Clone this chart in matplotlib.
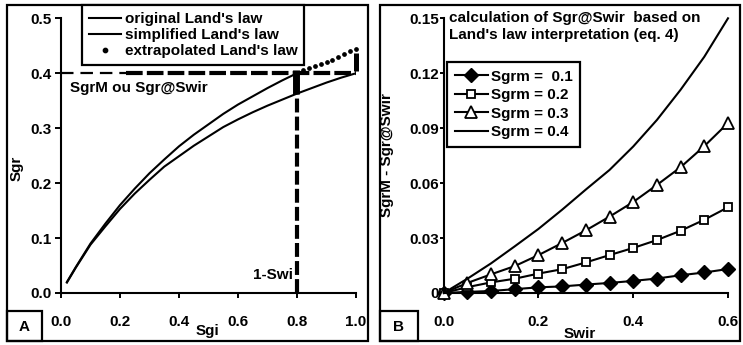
import matplotlib
matplotlib.use("Agg")
import matplotlib.pyplot as plt
from matplotlib.patches import Rectangle

plt.rcParams['font.family'] = ['Liberation Sans', 'DejaVu Sans']
plt.rcParams['font.weight'] = 'bold'
plt.rcParams['lines.scale_dashes'] = False

# ---------------- Panel A data ----------------
sgi_orig = [0.02, 0.05, 0.10, 0.15, 0.20, 0.25, 0.30, 0.35, 0.40, 0.45, 0.50,
            0.55, 0.60, 0.65, 0.70, 0.75, 0.80, 0.85, 0.90, 0.95, 1.00]
sgr_orig = [0.019, 0.046, 0.088, 0.121, 0.153, 0.181, 0.206, 0.230, 0.249, 0.268, 0.285,
            0.302, 0.316, 0.329, 0.341, 0.352, 0.363, 0.373, 0.383, 0.392, 0.400]
sgi_simp = [0.02, 0.05, 0.10, 0.15, 0.20, 0.25, 0.30, 0.35, 0.40, 0.45, 0.50,
            0.55, 0.60, 0.65, 0.70, 0.75, 0.80]
sgr_simp = [0.020, 0.047, 0.090, 0.126, 0.160, 0.190, 0.218, 0.243, 0.267, 0.288, 0.307,
            0.326, 0.343, 0.358, 0.373, 0.387, 0.400]
sgi_extr = [0.80, 0.82, 0.84, 0.86, 0.88, 0.90, 0.92, 0.94, 0.96, 0.98, 1.00]
sgr_extr = [0.400, 0.405, 0.409, 0.413, 0.417, 0.421, 0.425, 0.430, 0.435, 0.440, 0.445]
sgrm_level = 0.4
swi_point = 0.8
gap_x = [0.795, 1.0]
gap_lo = [0.362, 0.404]
gap_hi = [0.405, 0.437]

# ---------------- Panel B data ----------------
swir = [0.0, 0.05, 0.10, 0.15, 0.20, 0.25, 0.30, 0.35, 0.40, 0.45, 0.50, 0.55, 0.60]
d01 = [0.0, 0.0006, 0.0011, 0.0021, 0.0031, 0.0036, 0.0046, 0.0055, 0.0066, 0.0079, 0.0097, 0.0112, 0.0131]
d02 = [0.0, 0.0032, 0.0058, 0.0078, 0.0106, 0.0130, 0.0167, 0.0207, 0.0246, 0.0289, 0.0340, 0.0400, 0.0468]
d03 = [0.0, 0.0055, 0.0102, 0.0147, 0.0207, 0.0273, 0.0342, 0.0417, 0.0497, 0.0590, 0.0687, 0.0802, 0.0928]
d04 = [0.0, 0.0078, 0.0162, 0.0255, 0.0350, 0.0455, 0.0565, 0.0672, 0.0800, 0.0945, 0.1110, 0.1290, 0.1500]
labels_b = ["Sgrm =  0.1", "Sgrm = 0.2", "Sgrm = 0.3", "Sgrm = 0.4"]

W, H = 743, 345
fig = plt.figure(figsize=(W / 100, H / 100), dpi=100)

def fx(px):
    return px / W

def fy(py):
    return 1 - py / H

FS = 11
LW = 1.5

# panel borders and label boxes
for (x0, x1) in [(7, 368), (380, 740)]:
    fig.patches.append(Rectangle((fx(x0), fy(341)), fx(x1 - x0), (341 - 5) / H,
                                 transform=fig.transFigure, fill=False, lw=1.6, ec='black'))
for (x0, x1, lab) in [(7, 42, 'A'), (380, 418, 'B')]:
    fig.patches.append(Rectangle((fx(x0), fy(341)), fx(x1 - x0), (341 - 311) / H,
                                 transform=fig.transFigure, fill=False, lw=1.6, ec='black'))
    fig.text(fx((x0 + x1) / 2), fy(327), lab, ha='center', va='center', fontsize=FS, fontweight='bold')

# ---------------- Panel A ----------------
axA = fig.add_axes([fx(61), fy(293), fx(295), 274.7 / H])
lo, = axA.plot(sgi_orig, sgr_orig, color='black', lw=LW, label="original Land's law")
ls, = axA.plot(sgi_simp, sgr_simp, color='black', lw=LW, label="simplified Land's law")
le, = axA.plot(sgi_extr, sgr_extr, ls='none', marker='o', ms=2.4, color='black',
               label="extrapolated Land's law", clip_on=False)
axA.plot([0, 0.22], [sgrm_level, sgrm_level], color='black', lw=1.6, dashes=(9, 5))
axA.plot([0.22, 1.0], [sgrm_level, sgrm_level], color='black', lw=3.0, dashes=(12, 3), clip_on=False)
axA.plot([swi_point, swi_point], [0, sgrm_level], color='black', lw=3.0, dashes=(10, 3), clip_on=False)
for gx, a, b, w in zip(gap_x, gap_lo, gap_hi, [5.0, 3.6]):
    axA.plot([gx, gx], [a, b], color='black', lw=w, solid_capstyle='butt', clip_on=False)
axA.text(0.03, 0.373, "SgrM ou Sgr@Swir", ha='left', va='center', fontsize=FS, fontweight='bold')
axA.text(0.786, 0.033, "1-Swi", ha='right', va='center', fontsize=FS, fontweight='bold')
axA.set_xlim(0, 1.0)
axA.set_ylim(0, 0.5)
axA.set_xticks([0, 0.2, 0.4, 0.6, 0.8, 1.0])
axA.set_xticklabels(["0.0", "0.2", "0.4", "0.6", "0.8", "1.0"])
axA.set_yticks([0, 0.1, 0.2, 0.3, 0.4, 0.5])
axA.set_yticklabels(["0.0", "0.1", "0.2", "0.3", "0.4", "0.5"])
axA.set_xlabel("Sgi", fontsize=FS, fontweight='bold', va='center')
axA.xaxis.set_label_coords(0.498, -0.138)
axA.set_ylabel("Sgr", fontsize=FS, fontweight='bold', va='center', ha='center')
axA.yaxis.set_label_coords(-0.15, 0.455)
axA.tick_params(axis='x', length=3.5, width=1.4, pad=12.5, labelsize=FS)
axA.tick_params(axis='y', length=4.5, width=1.4, pad=2.5, labelsize=FS)

# ---------------- Panel B ----------------
axB = fig.add_axes([fx(443.7), fy(293), fx(284.3), 274.7 / H])
h1, = axB.plot(swir, d01, color='black', lw=LW, marker='D', ms=7, mfc='black', mec='black', clip_on=False)
h2, = axB.plot(swir, d02, color='black', lw=LW, marker='s', ms=6, mfc='white', mec='black', mew=1.3, clip_on=False)
h3, = axB.plot(swir, d03, color='black', lw=LW, marker='^', ms=8, mfc='white', mec='black', mew=1.3, clip_on=False)
h4, = axB.plot(swir, d04, color='black', lw=LW, clip_on=False)
axB.set_xlim(0, 0.6)
axB.set_ylim(0, 0.15)
axB.set_xticks([0, 0.2, 0.4, 0.6])
axB.set_xticklabels(["0.0", "0.2", "0.4", "0.6"])
axB.set_yticks([0, 0.03, 0.06, 0.09, 0.12, 0.15])
axB.set_yticklabels(["0", "0.03", "0.06", "0.09", "0.12", "0.15"])
axB.set_xlabel("Swir", fontsize=FS, fontweight='bold', va='center')
axB.xaxis.set_label_coords(0.479, -0.150)
axB.set_ylabel("SgrM - Sgr@Swir", fontsize=FS, fontweight='bold', va='center', ha='center')
axB.yaxis.set_label_coords(-0.199, 0.502)
axB.tick_params(axis='x', length=3.5, width=1.4, pad=12.5, labelsize=FS)
axB.tick_params(axis='y', length=3, width=1.4, pad=0.5, labelsize=FS)
fig.text(fx(449), fy(11), "calculation of Sgr@Swir  based on\nLand's law interpretation (eq. 4)",
         ha='left', va='top', fontsize=FS, fontweight='bold', linespacing=1.3)

for ax in (axA, axB):
    for s in ('top', 'right'):
        ax.spines[s].set_visible(False)
    for s in ('left', 'bottom'):
        ax.spines[s].set_linewidth(1.5)
    ax.set_facecolor('none')

legA = fig.legend(handles=[lo, ls, le], loc='upper left', bbox_to_anchor=(fx(82), fy(5)),
                  bbox_transform=fig.transFigure, frameon=True, fancybox=False,
                  edgecolor='black', framealpha=1, borderaxespad=0, borderpad=0.45,
                  handlelength=2.1, handletextpad=0.25, labelspacing=0.15, markerscale=1.3,
                  prop={'weight': 'bold', 'size': FS})
legA.get_frame().set_linewidth(1.6)

legB = fig.legend(handles=[h1, h2, h3, h4], labels=labels_b, loc='upper left',
                  bbox_to_anchor=(fx(447), fy(62)), bbox_transform=fig.transFigure,
                  frameon=True, fancybox=False, edgecolor='black', framealpha=1,
                  borderaxespad=0, borderpad=0.5, handlelength=2.2, handletextpad=0.15,
                  labelspacing=0.3, prop={'weight': 'bold', 'size': FS})
legB.get_frame().set_linewidth(1.6)

fig.savefig("out.png", dpi=100)
